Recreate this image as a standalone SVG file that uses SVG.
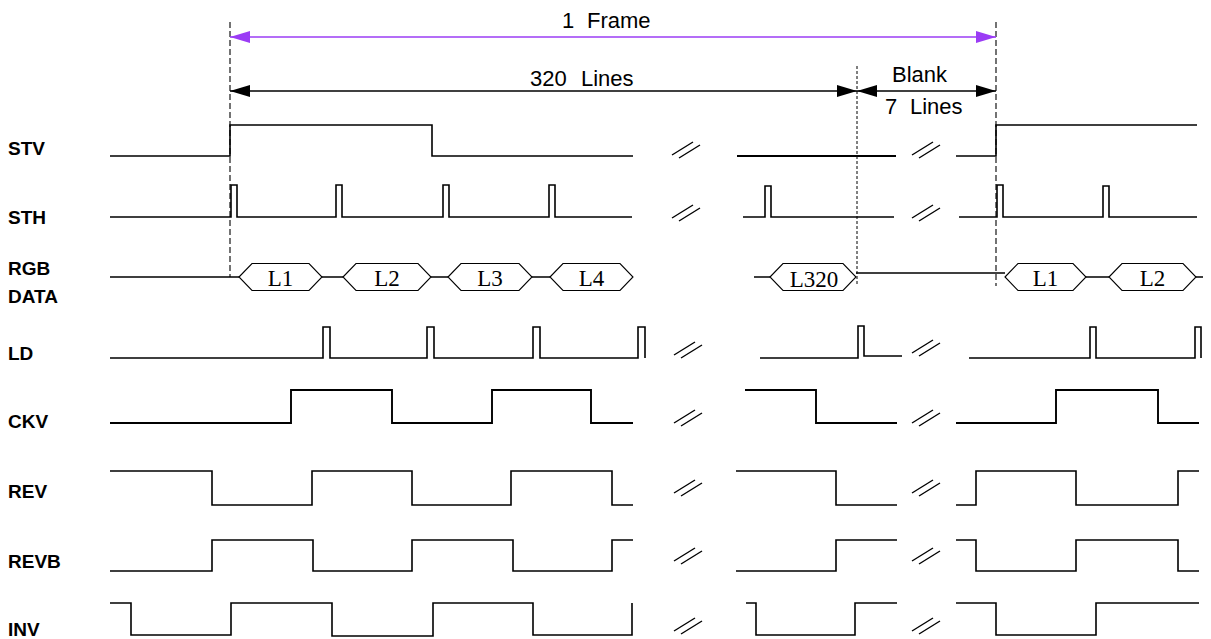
<svg xmlns="http://www.w3.org/2000/svg" width="1211" height="639" viewBox="0 0 1211 639">
<defs>
<style>
.sig{fill:none;stroke:#000;stroke-width:1.6;stroke-linejoin:miter}
.thick{fill:none;stroke:#000;stroke-width:2.2}
.hex{fill:#fff;stroke:#000;stroke-width:1.1}
.lbl{font-family:"Liberation Sans",Arial,sans-serif;font-weight:bold;font-size:19px;fill:#000}
.dim{font-family:"Liberation Sans",Arial,sans-serif;font-size:22px;fill:#000}
.hx{font-family:"Liberation Serif","Times New Roman",serif;font-size:23px;fill:#000;text-anchor:middle}
.brk{fill:none;stroke:#000;stroke-width:1.4}
.dash{fill:none;stroke:#000;stroke-width:1.1;stroke-dasharray:6 3}
.dash2{fill:none;stroke:#000;stroke-width:1;stroke-dasharray:3 2}
</style>
<marker id="ak" markerUnits="userSpaceOnUse" markerWidth="20" markerHeight="12" refX="20" refY="6" orient="auto-start-reverse">
<path d="M0,0 L20,6 L0,12 z" fill="#000"/>
</marker>
<marker id="ap" markerUnits="userSpaceOnUse" markerWidth="20" markerHeight="12" refX="20" refY="6" orient="auto-start-reverse">
<path d="M0,0 L20,6 L0,12 z" fill="#9b3cf5"/>
</marker>
<g id="brkmark"><line class="brk" x1="0" y1="13" x2="21" y2="0"/><line class="brk" x1="7" y1="16" x2="28" y2="3"/></g>
</defs>
<rect width="1211" height="639" fill="#fff"/>

<g id="connectors">
<line class="dash" x1="230" y1="22" x2="230" y2="277"/>
<line class="dash2" x1="857" y1="66" x2="857" y2="286"/>
<line class="dash" x1="996" y1="22" x2="996" y2="286"/>
<line x1="230" y1="37" x2="996" y2="37" stroke="#9b3cf5" stroke-width="1.3" marker-start="url(#ap)" marker-end="url(#ap)"/>
<line x1="230" y1="91" x2="857" y2="91" stroke="#000" stroke-width="1.3" marker-start="url(#ak)" marker-end="url(#ak)"/>
<line x1="857" y1="91" x2="996" y2="91" stroke="#000" stroke-width="1.3" marker-start="url(#ak)" marker-end="url(#ak)"/>
</g>

<g id="dim-labels">
<text class="dim" x="562" y="28">1</text><text class="dim" x="587" y="28">Frame</text>
<text class="dim" x="530" y="86">320</text><text class="dim" x="581" y="86">Lines</text>
<text class="dim" x="892" y="82">Blank</text>
<text class="dim" x="885" y="114">7</text><text class="dim" x="910" y="114">Lines</text>
</g>

<g id="STV">
<text class="lbl" x="8" y="155">STV</text>
<path class="sig" d="M110,156 H230 V125 H432 V156 H633"/>
<path class="thick" d="M737,156 H896"/>
<path class="sig" d="M956,156 H996 V125 H1197"/>
<use href="#brkmark" x="672" y="142"/>
<use href="#brkmark" x="912" y="142"/>
</g>

<g id="STH">
<text class="lbl" x="8" y="224">STH</text>
<path class="sig" d="M110,217 H231 V185 H237 V217 H336 V185 H342 V217 H443 V185 H449 V217 H549 V185 H555 V217 H632"/>
<path class="sig" d="M743,217 H765 V186 H771 V217 H894"/>
<path class="sig" d="M959,217 H997 V185 H1003 V217 H1103 V186 H1109 V217 H1197"/>
<use href="#brkmark" x="672" y="205"/>
<use href="#brkmark" x="912" y="205"/>
</g>

<g id="RGB-DATA">
<text class="lbl" x="8" y="275">RGB</text>
<text class="lbl" x="8" y="303">DATA</text>
<path class="sig" style="stroke-width:1.3" d="M110,277 H239 M322,277 H343 M431,277 H448 M532,277 H550 M754,277 H770 M856,273 H1005 M1086,277 H1109 M1196,277 H1203"/>
<polygon class="hex" points="239,277 252,263.5 309,263.5 322,277 309,290.5 252,290.5"/>
<text class="hx" x="280.5" y="286">L1</text>
<polygon class="hex" points="343,277 356,263.5 418,263.5 431,277 418,290.5 356,290.5"/>
<text class="hx" x="387" y="286">L2</text>
<polygon class="hex" points="448,277 461,263.5 519,263.5 532,277 519,290.5 461,290.5"/>
<text class="hx" x="490" y="286">L3</text>
<polygon class="hex" points="550,277 563,263.5 620,263.5 633,277 620,290.5 563,290.5"/>
<text class="hx" x="591.5" y="286">L4</text>
<polygon class="hex" points="770,277 783,263.5 843,263.5 856,277 843,290.5 783,290.5"/>
<text class="hx" x="814" y="287">L320</text>
<polygon class="hex" points="1005,277 1018,263.5 1073,263.5 1086,277 1073,290.5 1018,290.5"/>
<text class="hx" x="1045.5" y="286">L1</text>
<polygon class="hex" points="1109,277 1122,263.5 1183,263.5 1196,277 1183,290.5 1122,290.5"/>
<text class="hx" x="1152.5" y="286">L2</text>
</g>

<g id="LD">
<text class="lbl" x="8" y="360">LD</text>
<path class="sig" d="M110,358 H323 V327 H330 V358 H427 V327 H434 V358 H533 V327 H540 V358 H638 V327 H645 V358"/>
<path class="sig" d="M760,358 H858 V326 H864 V356 H902"/>
<path class="sig" d="M969,358 H1090 V327 H1096 V358 H1195 V327 H1201 V358"/>
<use href="#brkmark" x="674" y="342"/>
<use href="#brkmark" x="912" y="340"/>
</g>

<g id="CKV">
<text class="lbl" x="8" y="428">CKV</text>
<path class="sig" style="stroke-width:1.9" d="M110,423 H291 V390 H392 V423 H492 V390 H591 V423 H633"/>
<path class="sig" style="stroke-width:1.9" d="M745,390 H816 V423 H897"/>
<path class="sig" style="stroke-width:1.9" d="M956,423 H1056 V390 H1158 V423 H1199"/>
<use href="#brkmark" x="674" y="410"/>
<use href="#brkmark" x="912" y="410"/>
</g>

<g id="REV">
<text class="lbl" x="8" y="498">REV</text>
<path class="sig" d="M110,471 H212 V505 H312 V471 H412 V505 H511 V471 H612 V505 H633"/>
<path class="sig" d="M736,471 H836 V505 H897"/>
<path class="sig" d="M956,505 H976 V471 H1076 V505 H1178 V471 H1199"/>
<use href="#brkmark" x="674" y="480"/>
<use href="#brkmark" x="912" y="480"/>
</g>

<g id="REVB">
<text class="lbl" x="8" y="568">REVB</text>
<path class="sig" d="M110,571 H212 V540 H313 V571 H412 V540 H513 V571 H612 V540 H633"/>
<path class="sig" d="M736,571 H836 V540 H897"/>
<path class="sig" d="M956,540 H976 V571 H1076 V540 H1178 V571 H1199"/>
<use href="#brkmark" x="674" y="548"/>
<use href="#brkmark" x="912" y="548"/>
</g>

<g id="INV">
<text class="lbl" x="8" y="636">INV</text>
<path class="sig" d="M110,603 H131 V635 H231 V603 H332 V636 H433 V603 H533 V635 H632 V603"/>
<path class="sig" d="M746,603 H756 V635 H855 V603 H897"/>
<path class="sig" d="M956,603 H996 V635 H1096 V603 H1199"/>
<use href="#brkmark" x="674" y="618"/>
<use href="#brkmark" x="912" y="618"/>
</g>
</svg>
